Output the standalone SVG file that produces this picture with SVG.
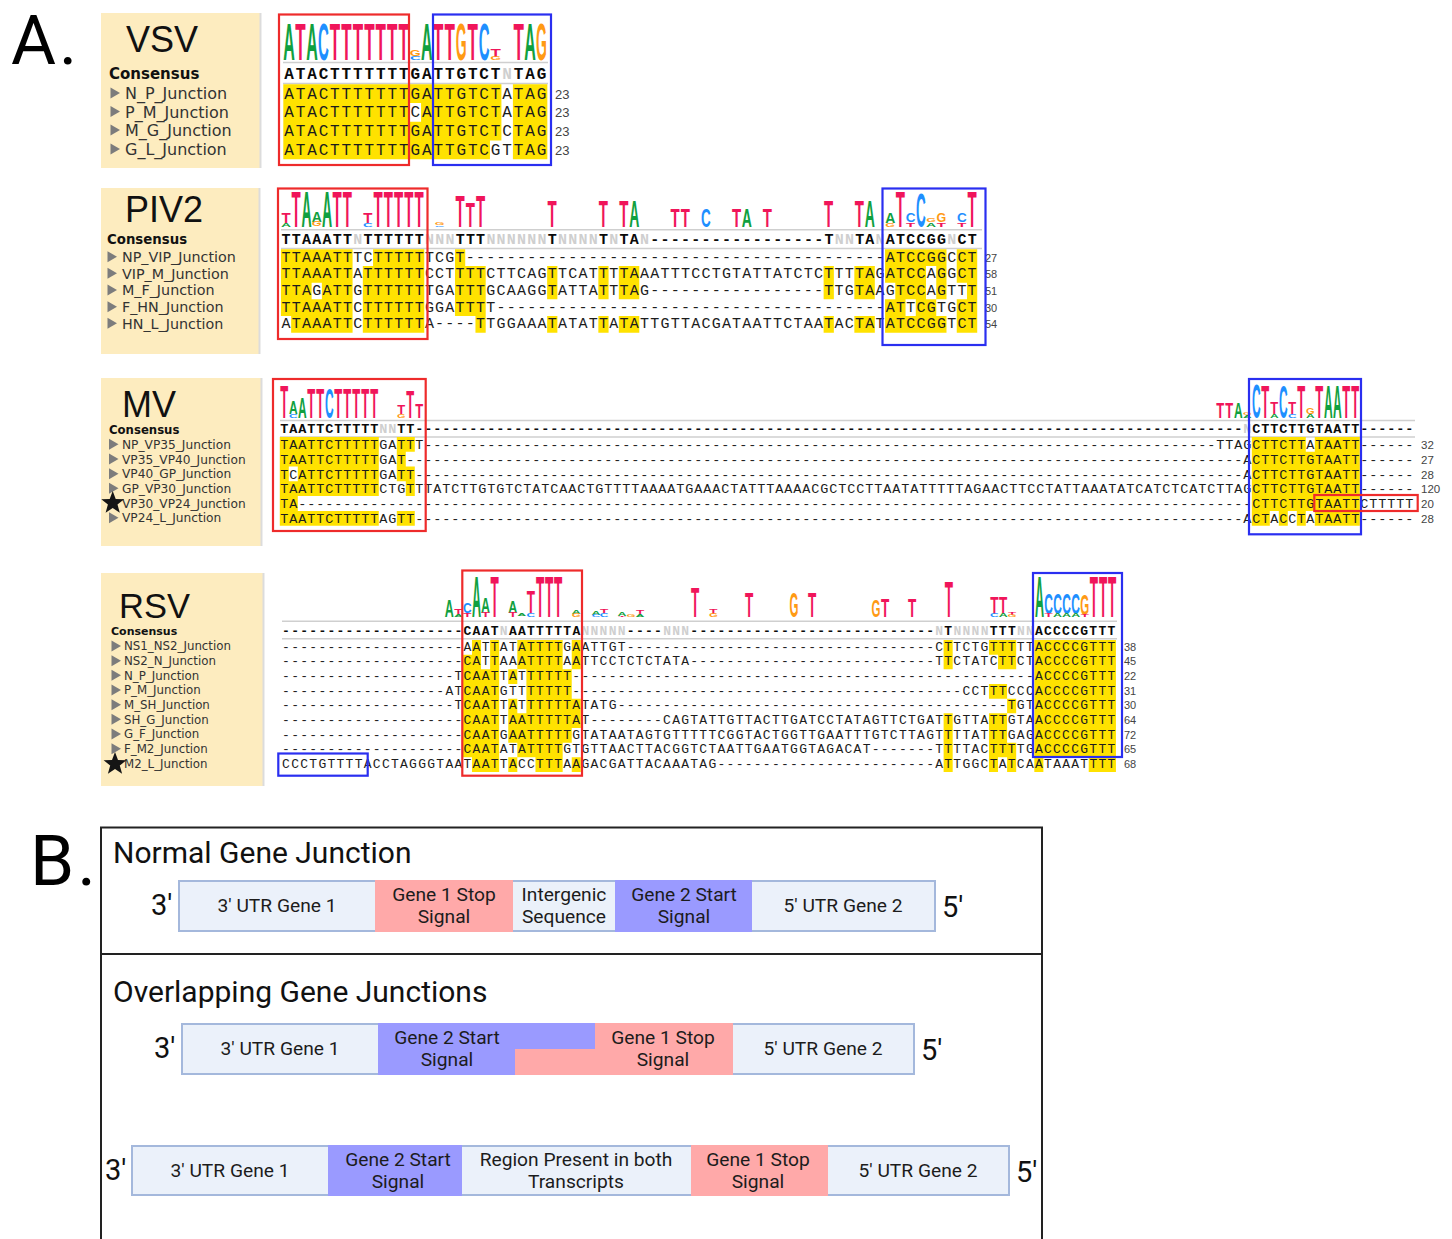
<svg xmlns="http://www.w3.org/2000/svg" width="1452" height="1239" viewBox="0 0 1452 1239">
<style>
text{white-space:pre}
.panel{fill:#fdecbf}
.edge{stroke:#dcdcdc;stroke-width:2}
.ti{font-family:"Liberation Sans",sans-serif;fill:#111}
.co{font-family:"DejaVu Sans",sans-serif;font-weight:700;fill:#111}
.la{font-family:"DejaVu Sans",sans-serif;fill:#333}
.tri{fill:#7c7c7c}
.star{fill:#151515}
.hl{fill:none;stroke:#ffe200;stroke-width:1}
.sq{font-family:"Liberation Mono",monospace;fill:#1c1c1c}
.cs{font-family:"Liberation Mono",monospace;font-weight:700;fill:#0a0a0a}
.n{fill:#cfcfcf}
.nu{font-family:"Liberation Sans",sans-serif;fill:#444}
.rule{stroke:#cfcfcf;stroke-width:1.4}
.rb{fill:none;stroke:#ee2b2b;stroke-width:2.2}
.bb{fill:none;stroke:#2a2ff0;stroke-width:2.2}
.A,.C,.G,.T{font-family:"Liberation Sans",sans-serif;font-size:10px;font-weight:700;text-anchor:middle}
.A{fill:#10a040}.C{fill:#1e8fff}.G{fill:#ff9a14}.T{fill:#f0155a}
.big{font-family:Roboto,sans-serif;fill:#000}
.h2{font-family:Roboto,sans-serif;font-size:30px;fill:#111}
.bx{font-family:Roboto,sans-serif;font-size:19.2px;fill:#1c1c1c;text-anchor:middle}
.pr{font-family:Roboto,sans-serif;font-size:29px;fill:#111}
.lt{fill:#ebf1fa;stroke:#a4b8dc;stroke-width:2}
.pk{fill:#ffa9a9}
.pu{fill:#9a9aff}
.fr{fill:none;stroke:#222;stroke-width:2}
</style>
<defs>
<path id="tr" class="tri" d="M0 -5.5L9.5 0L0 5.5z"/>
<path id="st" class="star" d="M0 -12L3 -3.9L11.4 -3.7L4.8 1.5L7.1 9.8L0 5L-7.1 9.8L-4.8 1.5L-11.4 -3.7L-3 -3.9z"/>
</defs>

<text class="big" x="11" y="64" font-size="69" letter-spacing="3">A.</text>

<g id="vsv">
<rect class="panel" x="101" y="13" width="159" height="155"/><line class="edge" x1="260.5" y1="13" x2="260.5" y2="168"/>
<text class="ti" x="126" y="52" font-size="36">VSV</text>
<text class="co" x="109" y="79" font-size="15">Consensus</text>
<use href="#tr" x="110.5" y="93"/><use href="#tr" x="110.5" y="111.5"/><use href="#tr" x="110.5" y="130"/><use href="#tr" x="110.5" y="149"/>
<g class="la" font-size="16"><text class="la" x="125" y="99">N_P_Junction</text><text class="la" x="125" y="117.5">P_M_Junction</text><text class="la" x="125" y="136">M_G_Junction</text><text class="la" x="125" y="155">G_L_Junction</text></g>
<g id="vsv-logo">
<text class="A" transform="translate(289 60) scale(1.6 5.23)">A</text><text class="T" transform="translate(300.5 60) scale(1.7 5.23)">T</text><text class="A" transform="translate(312 60) scale(1.6 5.23)">A</text><text class="C" transform="translate(323.4 60) scale(1.5 5.1)">C</text>
<text class="T" transform="translate(334.9 60) scale(1.7 5.23)">T</text><text class="T" transform="translate(346.4 60) scale(1.7 5.23)">T</text><text class="T" transform="translate(357.9 60) scale(1.7 5.23)">T</text><text class="T" transform="translate(369.4 60) scale(1.7 5.23)">T</text><text class="T" transform="translate(380.8 60) scale(1.7 5.23)">T</text><text class="T" transform="translate(392.3 60) scale(1.7 5.23)">T</text><text class="T" transform="translate(403.8 60) scale(1.7 5.23)">T</text>
<text class="G" transform="translate(415.3 55.5) scale(1.4 .9)">G</text><text class="C" transform="translate(415.3 59.5) scale(1.5 .5)">C</text>
<text class="A" transform="translate(426.8 60) scale(1.6 5.23)">A</text><text class="T" transform="translate(438.2 60) scale(1.7 5.23)">T</text><text class="T" transform="translate(449.7 60) scale(1.7 5.23)">T</text><text class="G" transform="translate(461.2 60) scale(1.4 5.1)">G</text><text class="T" transform="translate(472.7 60) scale(1.7 5.23)">T</text><text class="C" transform="translate(484.2 60) scale(1.5 5.1)">C</text>
<text class="T" transform="translate(495.6 56.5) scale(1.7 1)">T</text><text class="G" transform="translate(495.6 60) scale(1.4 .45)">G</text>
<text class="T" transform="translate(518.6 60) scale(1.7 5.23)">T</text><text class="A" transform="translate(530 60) scale(1.6 5.23)">A</text><text class="G" transform="translate(541.5 60) scale(1.4 5.1)">G</text>
</g>
<line class="rule" x1="283" y1="62.5" x2="548" y2="62.5"/><line class="rule" x1="283" y1="83.5" x2="548" y2="83.5"/>
<g transform="translate(283.3 84.3) scale(11.48 18.75)"><path class="hl" d="M0 .5h19m1 0h3M0 1.5h11m1 0h7m1 0h3M0 2.5h19m1 0h3M0 3.5h18m2 0h3"/></g>
<g font-size="16" letter-spacing="1.88">
<text class="cs" x="284.2" y="78.5">ATACTTTTTTTGATTGTCT<tspan class="n">N</tspan>TAG</text>
<text class="sq" x="284.2" y="98.7">ATACTTTTTTTGATTGTCTATAG</text>
<text class="sq" x="284.2" y="117.4">ATACTTTTTTTCATTGTCTATAG</text>
<text class="sq" x="284.2" y="136">ATACTTTTTTTGATTGTCTCTAG</text>
<text class="sq" x="284.2" y="154.7">ATACTTTTTTTGATTGTCGTTAG</text>
</g>
<g font-size="13"><text class="nu" x="555" y="98.5">23</text><text class="nu" x="555" y="117">23</text><text class="nu" x="555" y="135.5">23</text><text class="nu" x="555" y="154.5">23</text></g>
<rect class="rb" x="279" y="14.5" width="130" height="150.5"/>
<rect class="bb" x="433" y="14.5" width="118" height="150.5"/>
</g>

<g id="piv2">
<rect class="panel" x="101" y="188" width="158" height="166"/><line class="edge" x1="259.5" y1="188" x2="259.5" y2="354"/>
<text class="ti" x="125" y="222" font-size="36">PIV2</text>
<text class="co" x="107" y="244" font-size="13.3">Consensus</text>
<use href="#tr" x="107.5" y="256.7"/><use href="#tr" x="107.5" y="273.3"/><use href="#tr" x="107.5" y="290"/><use href="#tr" x="107.5" y="306.7"/><use href="#tr" x="107.5" y="323.3"/>
<g font-size="14.3"><text class="la" x="122" y="262">NP_VIP_Junction</text><text class="la" x="122" y="278.5">VIP_M_Junction</text><text class="la" x="122" y="295.2">M_F_Junction</text><text class="la" x="122" y="312">F_HN_Junction</text><text class="la" x="122" y="328.5">HN_L_Junction</text></g>
<g id="piv2-logo">
<text class="T" transform="translate(286 222.7) scale(1.5 1.45)">T</text><text class="A" transform="translate(286 226.7) scale(1.4 .58)">A</text>
<text class="T" transform="translate(296.2 226.7) scale(1.5 4.94)">T</text><text class="A" transform="translate(306.5 226.7) scale(1.4 4.94)">A</text>
<text class="A" transform="translate(316.7 221.5) scale(1.4 1.38)">A</text><text class="G" transform="translate(316.7 226) scale(1.25 .65)">G</text>
<text class="A" transform="translate(327 226.7) scale(1.4 4.94)">A</text><text class="T" transform="translate(337.2 226.7) scale(1.5 4.94)">T</text><text class="T" transform="translate(347.4 226.7) scale(1.5 4.94)">T</text>
<text class="T" transform="translate(367.9 222.7) scale(1.5 1.45)">T</text><text class="C" transform="translate(367.9 226.7) scale(1.35 .54)">C</text>
<text class="T" transform="translate(378.2 226.7) scale(1.5 4.94)">T</text><text class="T" transform="translate(388.4 226.7) scale(1.5 4.94)">T</text><text class="T" transform="translate(398.6 226.7) scale(1.5 4.94)">T</text><text class="T" transform="translate(408.9 226.7) scale(1.5 4.94)">T</text><text class="T" transform="translate(419.1 226.7) scale(1.5 4.94)">T</text>
<text class="G" transform="translate(439.6 225) scale(1.25 .29)">G</text><text class="C" transform="translate(439.6 226.7) scale(1.35 .25)">C</text>
<text class="T" transform="translate(460.1 226.7) scale(1.5 4.45)">T</text><text class="T" transform="translate(470.3 226.7) scale(1.5 3.48)">T</text><text class="T" transform="translate(480.6 226.7) scale(1.5 4.45)">T</text>
<text class="T" transform="translate(552.2 226.7) scale(1.5 3.77)">T</text><text class="T" transform="translate(603.4 226.7) scale(1.5 3.77)">T</text><text class="T" transform="translate(623.9 226.7) scale(1.5 3.77)">T</text><text class="A" transform="translate(634.2 226.7) scale(1.4 3.77)">A</text>
<text class="T" transform="translate(675.1 226.7) scale(1.5 2.67)">T</text><text class="T" transform="translate(685.4 226.7) scale(1.5 2.67)">T</text><text class="C" transform="translate(705.8 226.7) scale(1.35 2.6)">C</text><text class="T" transform="translate(736.6 226.7) scale(1.5 2.67)">T</text><text class="A" transform="translate(746.8 226.7) scale(1.4 2.67)">A</text><text class="T" transform="translate(767.3 226.7) scale(1.5 2.67)">T</text>
<text class="T" transform="translate(828.7 226.7) scale(1.5 3.77)">T</text><text class="T" transform="translate(859.4 226.7) scale(1.5 3.77)">T</text><text class="A" transform="translate(869.7 226.7) scale(1.4 3.77)">A</text>
<text class="A" transform="translate(890.2 223) scale(1.4 1.45)">A</text><text class="G" transform="translate(890.2 226.5) scale(1.25 .45)">G</text>
<text class="T" transform="translate(900.4 226.7) scale(1.5 4.94)">T</text>
<text class="C" transform="translate(910.6 222) scale(1.35 1.3)">C</text><text class="T" transform="translate(910.6 226.5) scale(1.5 .6)">T</text>
<text class="C" transform="translate(920.9 226.7) scale(1.35 4.9)">C</text>
<text class="G" transform="translate(931.1 222) scale(1.25 .45)">G</text><text class="A" transform="translate(931.1 226.5) scale(1.4 .6)">A</text>
<text class="G" transform="translate(941.4 222) scale(1.25 1.3)">G</text><text class="T" transform="translate(941.4 226.5) scale(1.5 .6)">T</text>
<text class="C" transform="translate(961.8 222) scale(1.35 1.3)">C</text><text class="T" transform="translate(961.8 226.5) scale(1.5 .6)">T</text>
<text class="T" transform="translate(972.1 226.7) scale(1.5 4.94)">T</text>
</g>
<line class="rule" x1="281" y1="229.7" x2="982" y2="229.7"/><line class="rule" x1="281" y1="248.5" x2="982" y2="248.5"/>
<g transform="translate(280.9 249.3) scale(10.24 16.68)"><path class="hl" d="M0 .5h7M9 .5h5M17 .5h1M59 .5h6M66 .5h2M0 1.5h7M8 1.5h6M17 1.5h3M26 1.5h1M31 1.5h1M33 1.5h2M53 1.5h1M56 1.5h2M59 1.5h4M64 1.5h1M66 1.5h2M0 2.5h3M4 2.5h3M8 2.5h6M17 2.5h3M26 2.5h1M31 2.5h1M33 2.5h2M53 2.5h1M56 2.5h2M60 2.5h3M64 2.5h1M67 2.5h1M0 3.5h7M8 3.5h6M17 3.5h3M59 3.5h2M62 3.5h2M66 3.5h2M1 4.5h6M8 4.5h6M19 4.5h1M26 4.5h1M31 4.5h1M33 4.5h2M53 4.5h1M56 4.5h2M59 4.5h6M66 4.5h2"/></g>
<g font-size="15" letter-spacing="1.24">
<text class="cs" x="281.5" y="244.3">TTAAATT<tspan class="n">N</tspan>TTTTTT<tspan class="n">NNN</tspan>TTT<tspan class="n">NNNNNN</tspan>T<tspan class="n">NNNN</tspan>T<tspan class="n">N</tspan>TA<tspan class="n">N</tspan>-----------------T<tspan class="n">NN</tspan>TA<tspan class="n">N</tspan>ATCCGG<tspan class="n">N</tspan>CT</text>
<text class="sq" x="281.5" y="261.7">TTAAATTTCTTTTTTCGT-----------------------------------------<tspan x="885.7">ATCCGGCCT</tspan></text>
<text class="sq" x="281.5" y="278.3">TTAAATTATTTTTTCCTTTTCTTCAGTTCATTTTAAATTTCCTGTATTATCTCTTTTAG<tspan x="885.7">ATCCAGGCT</tspan></text>
<text class="sq" x="281.5" y="295">TTAGATTGTTTTTTTGATTTGCAAGGTATTATTTAG-----------------TTGTAA<tspan x="885.7">GTCCAGTTT</tspan></text>
<text class="sq" x="281.5" y="311.7">TTAAATTCTTTTTTGGATTTT--------------------------------------<tspan x="885.7">ATTCGTGCT</tspan></text>
<text class="sq" x="281.5" y="328.3">ATAAATTCTTTTTTA----TTGGAAATATATTATATTGTTACGATAATTCTAATACTAT<tspan x="885.7">ATCCGGTCT</tspan></text>
</g>
<g font-size="11"><text class="nu" x="985" y="261.5">27</text><text class="nu" x="985" y="278">58</text><text class="nu" x="985" y="295">51</text><text class="nu" x="985" y="311.5">30</text><text class="nu" x="985" y="328">54</text></g>
<rect class="rb" x="278" y="188.5" width="149.5" height="150.5"/>
<rect class="bb" x="882.5" y="188.5" width="103" height="156.5"/>
</g>

<g id="mv">
<rect class="panel" x="101" y="378" width="160" height="168"/><line class="edge" x1="261.5" y1="378" x2="261.5" y2="546"/>
<text class="ti" x="122" y="417" font-size="36">MV</text>
<text class="co" x="109" y="434" font-size="11.7">Consensus</text>
<use href="#tr" x="109" y="444.3"/><use href="#tr" x="109" y="459"/><use href="#tr" x="109" y="473.7"/><use href="#tr" x="109" y="488.3"/><use href="#tr" x="109" y="517.7"/>
<g font-size="12.2"><text class="la" x="122" y="448.8">NP_VP35_Junction</text><text class="la" x="122" y="463.5">VP35_VP40_Junction</text><text class="la" x="122" y="478.2">VP40_GP_Junction</text><text class="la" x="122" y="492.8">GP_VP30_Junction</text><text class="la" x="122" y="507.5">VP30_VP24_Junction</text><text class="la" x="122" y="522.2">VP24_L_Junction</text></g>
<use href="#st" x="112.7" y="503"/>
<g id="mv-logo">
<text class="T" transform="translate(284.3 417.7) scale(1.3 4.64)">T</text>
<text class="A" transform="translate(293.3 414) scale(1.2 1.78)">A</text><text class="C" transform="translate(293.3 417.7) scale(1.2 .54)">C</text>
<text class="A" transform="translate(302.3 417.7) scale(1.2 2.9)">A</text><text class="T" transform="translate(311.3 417.7) scale(1.3 4.26)">T</text><text class="T" transform="translate(320.3 417.7) scale(1.3 4.26)">T</text><text class="C" transform="translate(329.3 417.7) scale(1.2 4.2)">C</text><text class="T" transform="translate(338.3 417.7) scale(1.3 4.26)">T</text><text class="T" transform="translate(347.3 417.7) scale(1.3 4.26)">T</text><text class="T" transform="translate(356.3 417.7) scale(1.3 4.26)">T</text><text class="T" transform="translate(365.3 417.7) scale(1.3 4.26)">T</text><text class="T" transform="translate(374.3 417.7) scale(1.3 4.26)">T</text>
<text class="T" transform="translate(401.3 414.3) scale(1.3 1.25)">T</text><text class="G" transform="translate(401.3 417.7) scale(1.1 .49)">G</text>
<text class="T" transform="translate(410.3 417.7) scale(1.3 3.87)">T</text><text class="T" transform="translate(419.3 417.7) scale(1.3 2.09)">T</text>
<text class="T" transform="translate(1220.3 417.7) scale(1.3 2.23)">T</text><text class="T" transform="translate(1229.3 417.7) scale(1.3 2.23)">T</text><text class="A" transform="translate(1238.3 417.7) scale(1.2 2.23)">A</text>
<text class="G" transform="translate(1247.3 414.7) scale(1.1 .36)">G</text><text class="A" transform="translate(1247.3 417.7) scale(1.2 .43)">A</text>
<text class="C" transform="translate(1256.3 417.7) scale(1.2 4.84)">C</text><text class="T" transform="translate(1265.3 417.7) scale(1.3 4.64)">T</text>
<text class="T" transform="translate(1274.3 414.3) scale(1.3 1.74)">T</text><text class="A" transform="translate(1274.3 417.7) scale(1.2 .49)">A</text>
<text class="C" transform="translate(1283.3 417.7) scale(1.2 4.7)">C</text>
<text class="T" transform="translate(1292.3 414.3) scale(1.3 1.74)">T</text><text class="C" transform="translate(1292.3 417.7) scale(1.2 .49)">C</text>
<text class="T" transform="translate(1301.3 417.7) scale(1.3 4.64)">T</text>
<text class="G" transform="translate(1310.3 414) scale(1.1 .87)">G</text><text class="A" transform="translate(1310.3 417.7) scale(1.2 .54)">A</text>
<text class="T" transform="translate(1319.3 417.7) scale(1.3 4.64)">T</text><text class="A" transform="translate(1328.3 417.7) scale(1.2 4.64)">A</text><text class="A" transform="translate(1337.3 417.7) scale(1.2 4.64)">A</text><text class="T" transform="translate(1346.3 417.7) scale(1.3 4.64)">T</text><text class="T" transform="translate(1355.3 417.7) scale(1.3 4.64)">T</text>
</g>
<line class="rule" x1="280" y1="420.5" x2="1415" y2="420.5"/><line class="rule" x1="280" y1="437" x2="1415" y2="437"/>
<g transform="translate(279.8 437) scale(9 14.78)"><path class="hl" d="M0 .5h11M13 .5h2M108 .5h6M115 .5h5M0 1.5h11M13 1.5h1M108 1.5h12M0 2.5h1M2 2.5h9M13 2.5h2M108 2.5h12M0 3.5h11M14 3.5h1M108 3.5h12M0 4.5h2M108 4.5h12M0 5.5h11M13 5.5h2M108 5.5h2M111 5.5h1M113 5.5h1M115 5.5h5"/></g>
<g font-size="13.5" letter-spacing=".9">
<text class="cs" x="280.2" y="433">TAATTCTTTTT<tspan class="n">NN</tspan>TT--------------------------------------------------------------------------------------------<tspan class="n">N</tspan><tspan x="1252.2">CTTCTTGTAATT------</tspan></text>
<text class="sq" x="280.2" y="449">TAATTCTTTTTGATTT----------------------------------------------------------------------------------------TTAG<tspan x="1252.2">CTTCTTATAATT------</tspan></text>
<text class="sq" x="280.2" y="463.7">TAATTCTTTTTGAT---------------------------------------------------------------------------------------------A<tspan x="1252.2">CTTCTTGTAATT------</tspan></text>
<text class="sq" x="280.2" y="478.5">TCATTCTTTTTGATT--------------------------------------------------------------------------------------------A<tspan x="1252.2">CTTCTTGTAATT------</tspan></text>
<text class="sq" x="280.2" y="493.2">TAATTCTTTTTCTGTTTATCTTGTGTCTATCAACTGTTTTAAAATGAAACTATTTAAAACGCTCCTTAATATTTTTAGAACTTCCTATTAAATATCATCTCATCTTAG<tspan x="1252.2">CTTCTTGTAATT------</tspan></text>
<text class="sq" x="280.2" y="508">TA----------------------------------------------------------------------------------------------------------<tspan x="1252.2">CTTCTTGTAATTCTTTTT</tspan></text>
<text class="sq" x="280.2" y="522.7">TAATTCTTTTTAGTT--------------------------------------------------------------------------------------------A<tspan x="1252.2">CTACCTATAATT------</tspan></text>
</g>
<g font-size="11.5"><text class="nu" x="1421" y="449">32</text><text class="nu" x="1421" y="463.7">27</text><text class="nu" x="1421" y="478.5">28</text><text class="nu" x="1421" y="493.2">120</text><text class="nu" x="1421" y="508">20</text><text class="nu" x="1421" y="522.7">28</text></g>
<rect class="rb" x="273" y="379" width="152.7" height="152"/>
<rect class="bb" x="1249" y="379" width="112" height="155.3"/>
<rect class="rb" x="1314.3" y="495" width="103.4" height="16"/>
</g>

<g id="rsv">
<rect class="panel" x="101" y="573" width="162" height="213"/><line class="edge" x1="263.5" y1="573" x2="263.5" y2="786"/>
<text class="ti" x="119" y="617.5" font-size="34.5">RSV</text>
<text class="co" x="111" y="634.5" font-size="11">Consensus</text>
<use href="#tr" x="111.5" y="646"/><use href="#tr" x="111.5" y="660.7"/><use href="#tr" x="111.5" y="675.3"/><use href="#tr" x="111.5" y="690"/><use href="#tr" x="111.5" y="704.7"/><use href="#tr" x="111.5" y="719.3"/><use href="#tr" x="111.5" y="734"/><use href="#tr" x="111.5" y="748.7"/>
<g font-size="11.8"><text class="la" x="124" y="650.3">NS1_NS2_Junction</text><text class="la" x="124" y="665">NS2_N_Junction</text><text class="la" x="124" y="679.6">N_P_Junction</text><text class="la" x="124" y="694.3">P_M_Junction</text><text class="la" x="124" y="709">M_SH_Junction</text><text class="la" x="124" y="723.6">SH_G_Junction</text><text class="la" x="124" y="738.3">G_F_Junction</text><text class="la" x="124" y="753">F_M2_Junction</text><text class="la" x="124" y="767.6">M2_L_Junction</text></g>
<use href="#st" x="115" y="764"/>
<g id="rsv-logo">
<text class="A" transform="translate(449.3 617.3) scale(1.25 2.41)">A</text>
<text class="T" transform="translate(458.4 615) scale(1.35 .87)">T</text><text class="A" transform="translate(458.4 617.3) scale(1.25 .33)">A</text>
<text class="C" transform="translate(467.4 613) scale(1.2 1.45)">C</text><text class="T" transform="translate(467.4 617.3) scale(1.35 .6)">T</text>
<text class="A" transform="translate(476.5 617.3) scale(1.25 5.81)">A</text>
<text class="A" transform="translate(485.5 612.7) scale(1.25 2.23)">A</text><text class="T" transform="translate(485.5 617.3) scale(1.35 .65)">T</text>
<text class="T" transform="translate(494.6 617.3) scale(1.35 5.81)">T</text>
<text class="A" transform="translate(512.8 612.7) scale(1.25 1.6)">A</text><text class="T" transform="translate(512.8 617.3) scale(1.35 .65)">T</text>
<text class="A" transform="translate(521.8 616.3) scale(1.25 .3)">A</text>
<text class="T" transform="translate(530.9 613) scale(1.35 3.2)">T</text><text class="C" transform="translate(530.9 617.3) scale(1.2 .6)">C</text>
<text class="T" transform="translate(540 617.3) scale(1.35 5.75)">T</text><text class="T" transform="translate(549 617.3) scale(1.35 5.75)">T</text><text class="T" transform="translate(558.1 617.3) scale(1.35 5.75)">T</text>
<text class="A" transform="translate(576.2 614) scale(1.25 .5)">A</text><text class="G" transform="translate(576.2 617.3) scale(1.15 .45)">G</text>
<text class="A" transform="translate(596 615) scale(1.25 .5)">A</text><text class="C" transform="translate(596 617.3) scale(1.2 .3)">C</text>
<text class="T" transform="translate(604 613) scale(1.35 .6)">T</text><text class="C" transform="translate(604 617.3) scale(1.2 .6)">C</text>
<text class="A" transform="translate(622 615.5) scale(1.25 .5)">A</text><text class="T" transform="translate(622 617.3) scale(1.35 .25)">T</text>
<text class="G" transform="translate(631 617) scale(1.15 .3)">G</text>
<text class="T" transform="translate(640 615) scale(1.35 .75)">T</text><text class="A" transform="translate(640 617.3) scale(1.25 .3)">A</text>
<text class="T" transform="translate(695 617.3) scale(1.35 4.2)">T</text>
<text class="T" transform="translate(713.4 614) scale(1.35 .75)">T</text><text class="G" transform="translate(713.4 617.3) scale(1.15 .45)">G</text>
<text class="T" transform="translate(749 617.3) scale(1.35 3.5)">T</text><text class="G" transform="translate(794 617.3) scale(1.15 3.45)">G</text><text class="T" transform="translate(812 617.3) scale(1.35 3.5)">T</text>
<text class="G" transform="translate(876 617.3) scale(1.15 2.45)">G</text><text class="T" transform="translate(885 617.3) scale(1.35 2.5)">T</text><text class="T" transform="translate(912 617.3) scale(1.35 2.5)">T</text>
<text class="T" transform="translate(948.8 617.3) scale(1.35 5.05)">T</text>
<text class="T" transform="translate(994.3 613.5) scale(1.35 2.45)">T</text><text class="C" transform="translate(994.3 617.3) scale(1.2 .55)">C</text>
<text class="T" transform="translate(1003.2 613.5) scale(1.35 2.45)">T</text><text class="A" transform="translate(1003.2 617.3) scale(1.25 .55)">A</text>
<text class="T" transform="translate(1012 615) scale(1.35 .4)">T</text><text class="G" transform="translate(1012 617.3) scale(1.15 .3)">G</text>
<text class="A" transform="translate(1039.4 617.3) scale(1.25 5.81)">A</text>
<text class="C" transform="translate(1048.5 613.5) scale(1.2 2.9)">C</text><text class="T" transform="translate(1048.5 617.3) scale(1.35 .55)">T</text>
<text class="C" transform="translate(1057.6 613.5) scale(1.2 2.9)">C</text><text class="A" transform="translate(1057.6 617.3) scale(1.25 .55)">A</text>
<text class="C" transform="translate(1066.6 613.5) scale(1.2 2.9)">C</text><text class="A" transform="translate(1066.6 617.3) scale(1.25 .55)">A</text>
<text class="C" transform="translate(1075.7 613.5) scale(1.2 2.9)">C</text><text class="A" transform="translate(1075.7 617.3) scale(1.25 .55)">A</text>
<text class="G" transform="translate(1084.8 614.5) scale(1.15 3)">G</text><text class="T" transform="translate(1084.8 617.3) scale(1.35 .4)">T</text>
<text class="T" transform="translate(1093.9 617.3) scale(1.35 5.7)">T</text><text class="T" transform="translate(1103 617.3) scale(1.35 5.7)">T</text><text class="T" transform="translate(1112 617.3) scale(1.35 5.7)">T</text>
</g>
<line class="rule" x1="282" y1="621.3" x2="1117" y2="621.3"/><line class="rule" x1="282" y1="638.7" x2="1117" y2="638.7"/>
<g transform="translate(281.5 640) scale(9.07 14.67)"><path class="hl" d="M21 .5h1M23 .5h1M26 .5h5M32 .5h1M73 .5h1M78 .5h3M83 .5h9M20 1.5h2M23 1.5h1M26 1.5h5M32 1.5h1M73 1.5h1M79 1.5h2M83 1.5h9M20 2.5h4M25 2.5h1M27 2.5h5M83 2.5h9M20 3.5h4M27 3.5h5M78 3.5h2M83 3.5h9M20 4.5h4M25 4.5h1M27 4.5h6M80 4.5h1M83 4.5h9M20 5.5h4M25 5.5h8M73 5.5h1M78 5.5h2M83 5.5h9M20 6.5h4M25 6.5h7M73 6.5h1M78 6.5h2M83 6.5h9M20 7.5h4M26 7.5h5M73 7.5h1M78 7.5h3M83 7.5h9M21 8.5h3M25 8.5h1M28 8.5h3M32 8.5h1M73 8.5h1M78 8.5h1M80 8.5h1M83 8.5h1M89 8.5h3"/></g>
<g font-size="13" letter-spacing="1.27">
<text class="cs" x="282.1" y="634.5">--------------------CAAT<tspan class="n">N</tspan>AATTTTTA<tspan class="n">NNNNN</tspan>----<tspan class="n">NNN</tspan>---------------------------<tspan class="n">N</tspan>T<tspan class="n">NNNN</tspan>TTT<tspan class="n">NN</tspan><tspan x="1034.9">ACCCCGTTT</tspan></text>
<text class="sq" x="282.1" y="650.5">--------------------AATTATATTTTGAATTGT----------------------------------CTTCTGTTTTT<tspan x="1034.9">ACCCCGTTT</tspan></text>
<text class="sq" x="282.1" y="665.2">--------------------CATTAAATTTTAATTCCTCTCTATA---------------------------TTCTATCTTCT<tspan x="1034.9">ACCCCGTTT</tspan></text>
<text class="sq" x="282.1" y="679.8">-------------------TCAATTATTTTTT---------------------------------------------------<tspan x="1034.9">ACCCCGTTT</tspan></text>
<text class="sq" x="282.1" y="694.5">------------------ATCAATGTTTTTTT-------------------------------------------CCTTTCCC<tspan x="1034.9">ACCCCGTTT</tspan></text>
<text class="sq" x="282.1" y="709.2">-------------------TCAATTATTTTTTATATG-------------------------------------------TGT<tspan x="1034.9">ACCCCGTTT</tspan></text>
<text class="sq" x="282.1" y="723.8">--------------------CAATTAATTTTTAT--------CAGTATTGTTACTTGATCCTATAGTTCTGATTGTTATTGTA<tspan x="1034.9">ACCCCGTTT</tspan></text>
<text class="sq" x="282.1" y="738.5">--------------------CAATGAATTTTTGTATAATAGTGTTTTTCGGTACTGGTTGAATTTGTCTTAGTTTTATTTGAG<tspan x="1034.9">ACCCCGTTT</tspan></text>
<text class="sq" x="282.1" y="753.2">--------------------CAATATATTTTGTGTTAACTTACGGTCTAATTGAATGGTAGACAT-------TTTTACTTTTG<tspan x="1034.9">ACCCCGTTT</tspan></text>
<text class="sq" x="282.1" y="767.8">CCCTGTTTTACCTAGGGTAATAATTACCTTTAAGACGATTACAAATAG------------------------ATTGGCTATCAATAAATTTT</text>
</g>
<g font-size="11"><text class="nu" x="1124" y="650.5">38</text><text class="nu" x="1124" y="665.2">45</text><text class="nu" x="1124" y="679.8">22</text><text class="nu" x="1124" y="694.5">31</text><text class="nu" x="1124" y="709.2">30</text><text class="nu" x="1124" y="723.8">64</text><text class="nu" x="1124" y="738.5">72</text><text class="nu" x="1124" y="753.2">65</text><text class="nu" x="1124" y="767.8">68</text></g>
<rect class="rb" x="462.3" y="570.5" width="119.7" height="205.2"/>
<rect class="bb" x="1033" y="573" width="89" height="184"/>
<rect class="bb" x="278.3" y="753.5" width="89.4" height="22.2"/>
</g>

<text class="big" x="30" y="885" font-size="71" letter-spacing="3">B.</text>
<g id="frame">
<rect class="fr" x="101" y="827.5" width="941" height="420"/>
<line class="fr" x1="101" y1="954" x2="1042" y2="954"/>
</g>

<g id="normal">
<text class="h2" x="113" y="863">Normal Gene Junction</text>
<rect class="lt" x="179" y="881" width="756" height="50"/>
<rect class="pk" x="375" y="880" width="138" height="52"/>
<rect class="pu" x="615" y="880" width="137" height="52"/>
<text class="pr" x="151" y="915">3'</text><text class="pr" x="942" y="917">5'</text>
<text class="bx" x="277" y="912">3' UTR Gene 1</text>
<text class="bx" x="444" y="901">Gene 1 Stop</text><text class="bx" x="444" y="923">Signal</text>
<text class="bx" x="564" y="901">Intergenic</text><text class="bx" x="564" y="923">Sequence</text>
<text class="bx" x="684" y="901">Gene 2 Start</text><text class="bx" x="684" y="923">Signal</text>
<text class="bx" x="843" y="912">5' UTR Gene 2</text>
</g>

<g id="overlap">
<text class="h2" x="113" y="1002">Overlapping Gene Junctions</text>
<rect class="lt" x="182" y="1024" width="732" height="50"/>
<rect class="pk" x="515" y="1049" width="218" height="26"/>
<rect class="pk" x="595" y="1023" width="138" height="27"/>
<path class="pu" d="M378 1023H595V1049H515V1075H378z"/>
<text class="pr" x="154" y="1058">3'</text><text class="pr" x="921" y="1060">5'</text>
<text class="bx" x="280" y="1055">3' UTR Gene 1</text>
<text class="bx" x="447" y="1044">Gene 2 Start</text><text class="bx" x="447" y="1066">Signal</text>
<text class="bx" x="663" y="1044">Gene 1 Stop</text><text class="bx" x="663" y="1066">Signal</text>
<text class="bx" x="823" y="1055">5' UTR Gene 2</text>
</g>

<g id="overlap2">
<rect class="lt" x="132" y="1146" width="877" height="49"/>
<rect class="pu" x="328" y="1145" width="134" height="51"/>
<rect class="pk" x="691" y="1145" width="137" height="51"/>
<text class="pr" x="105" y="1180">3'</text><text class="pr" x="1016" y="1182">5'</text>
<text class="bx" x="230" y="1177">3' UTR Gene 1</text>
<text class="bx" x="398" y="1166">Gene 2 Start</text><text class="bx" x="398" y="1188">Signal</text>
<text class="bx" x="576" y="1166">Region Present in both</text><text class="bx" x="576" y="1188">Transcripts</text>
<text class="bx" x="758" y="1166">Gene 1 Stop</text><text class="bx" x="758" y="1188">Signal</text>
<text class="bx" x="918" y="1177">5' UTR Gene 2</text>
</g>
</svg>
